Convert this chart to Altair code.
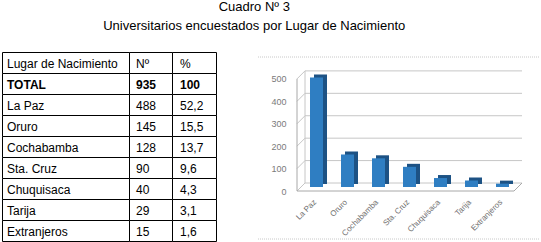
import altair as alt
import pandas as pd

# ---- data ----
places = ["La Paz", "Oruro", "Cochabamba", "Sta. Cruz", "Chuquisaca", "Tarija", "Extranjeros"]
counts = [488, 145, 128, 90, 40, 29, 15]
percents = ["52,2", "15,5", "13,7", "9,6", "4,3", "3,1", "1,6"]
total_label = "TOTAL"
total_count = 935
total_pct = "100"
header = ["Lugar de Nacimiento", "Nº", "%"]
y_ticks = [0, 100, 200, 300, 400, 500]
title_lines = ["Cuadro Nº 3", "Universitarios encuestados por Lugar de Nacimiento"]

FONT = "Liberation Sans"

# ---- table layout ----
col_edges = [0, 127, 170, 214]
text_pad = [5, 7, 8]
table_rows = [header, [total_label, str(total_count), total_pct]] + [
    [p, str(c), q] for p, c, q in zip(places, counts, percents)
]
cells = []
for r, row in enumerate(table_rows):
    for c, txt in enumerate(row):
        cells.append(dict(r0=r, r1=r + 1, ry=r + 0.5, x0=col_edges[c], x1=col_edges[c + 1],
                          tx=col_edges[c] + text_pad[c], label=txt, bold=1 if r == 1 else 0))
cells = pd.DataFrame(cells)

nrows = len(table_rows)
tx_scale = alt.Scale(domain=[0, col_edges[-1]], nice=False, zero=False)
ty_scale = alt.Scale(domain=[0, nrows], nice=False, zero=False, reverse=True)

tbase = alt.Chart(cells)
rects = tbase.mark_rect(fill="white", stroke="black", strokeWidth=1,
                        xOffset=0.5, x2Offset=0.5, yOffset=0.5, y2Offset=0.5).encode(
    x=alt.X("x0:Q", scale=tx_scale, axis=None), x2="x1:Q",
    y=alt.Y("r0:Q", scale=ty_scale, axis=None), y2="r1:Q")
txt_norm = tbase.mark_text(align="left", baseline="middle", fontSize=12, font=FONT,
                           color="black", dy=1).encode(
    x=alt.X("tx:Q", scale=tx_scale, axis=None),
    y=alt.Y("ry:Q", scale=ty_scale, axis=None), text="label:N").transform_filter("datum.bold == 0")
txt_bold = tbase.mark_text(align="left", baseline="middle", fontSize=12, font=FONT,
                           fontWeight="bold", color="black", dy=1).encode(
    x=alt.X("tx:Q", scale=tx_scale, axis=None),
    y=alt.Y("ry:Q", scale=ty_scale, axis=None), text="label:N").transform_filter("datum.bold == 1")
table = alt.layer(rects, txt_norm, txt_bold).properties(width=214, height=189)

# ---- bar chart ----
bars_df = pd.DataFrame({"place": places, "count": counts})
ticks_df = pd.DataFrame({"tick": y_ticks})
W = 217
D = 8
ys = alt.Scale(domain=[0, 620], nice=False, zero=True)
yaxis = alt.Axis(values=y_ticks, title=None, domain=False, ticks=False, grid=False,
                 labelColor="#7a7a7a", labelFontSize=9, labelFont=FONT, labelPadding=11)
grid_col = "#c6c6c6"
edge_col = "#a8a8a8"

tb = alt.Chart(ticks_df)
back_grid = tb.mark_rule(color=grid_col, xOffset=D, x2Offset=D, yOffset=-D).encode(
    x=alt.value(0), x2=alt.value(W), y=alt.Y("tick:Q", scale=ys, axis=yaxis))
connectors = tb.mark_rule(color=grid_col, y2Offset=-D).encode(
    x=alt.value(0), x2=alt.value(D), y=alt.Y("tick:Q", scale=ys, axis=yaxis), y2="tick:Q")
back_vert = alt.Chart(pd.DataFrame({"a": [y_ticks[-1]], "b": [0]})).mark_rule(
    color=grid_col, yOffset=-D, y2Offset=-D).encode(
    x=alt.value(D), y=alt.Y("a:Q", scale=ys, axis=yaxis), y2="b:Q")
front_axis = alt.Chart(pd.DataFrame({"a": [y_ticks[-1]], "b": [0]})).mark_rule(
    color=edge_col).encode(
    x=alt.value(0), y=alt.Y("a:Q", scale=ys, axis=yaxis), y2="b:Q")
front_floor = alt.Chart(pd.DataFrame({"b": [0]})).mark_rule(color=edge_col).encode(
    x=alt.value(0), x2=alt.value(W), y=alt.Y("b:Q", scale=ys, axis=yaxis))
floor_diag = alt.Chart(pd.DataFrame({"b": [0]})).mark_rule(color=edge_col, y2Offset=-D).encode(
    x=alt.value(W), x2=alt.value(W + D), y=alt.Y("b:Q", scale=ys, axis=yaxis), y2="b:Q")

xenc = alt.X("place:N", sort=places, scale=alt.Scale(paddingInner=0, paddingOuter=0),
             axis=alt.Axis(title=None, labelAngle=-45, domain=False, ticks=False,
                           labelColor="#6e6e6e", labelFontSize=8, labelFont=FONT,
                           labelPadding=7))
bb = alt.Chart(bars_df)
bar_back = bb.mark_bar(color="#1d5284", size=13, xOffset=8, yOffset=-7, y2Offset=-7).encode(
    x=xenc, y=alt.Y("count:Q", scale=ys, axis=yaxis))
bar_front = bb.mark_bar(color="#2f7ec2", size=13, xOffset=4, yOffset=-4, y2Offset=-4).encode(
    x=xenc, y=alt.Y("count:Q", scale=ys, axis=yaxis))

border_top = alt.Chart(ticks_df.head(1)).mark_rule(color="#c8c8c8", strokeDash=[1, 1]).encode(
    x=alt.value(-39), x2=alt.value(243), y=alt.value(5))
border_bot = alt.Chart(ticks_df.head(1)).mark_rule(color="#c8c8c8", strokeDash=[1, 1]).encode(
    x=alt.value(-39), x2=alt.value(243), y=alt.value(187))

bar_chart = alt.layer(border_top, border_bot, back_grid, connectors, back_vert, front_floor,
                      floor_diag, front_axis, bar_back, bar_front).properties(width=W, height=139)

chart = alt.hconcat(table, bar_chart, spacing=81, bounds="flush").properties(
    title=alt.TitleParams(text=title_lines, fontSize=13, font=FONT, fontWeight="normal",
                          anchor="middle", lineHeight=19, offset=19, dx=-17, color="black"),
    padding={"left": 2, "top": 1, "right": 0, "bottom": 0},
    background="white",
).configure_view(stroke=None)

chart.save("out.html", embed_options={"renderer": "svg", "actions": False})
